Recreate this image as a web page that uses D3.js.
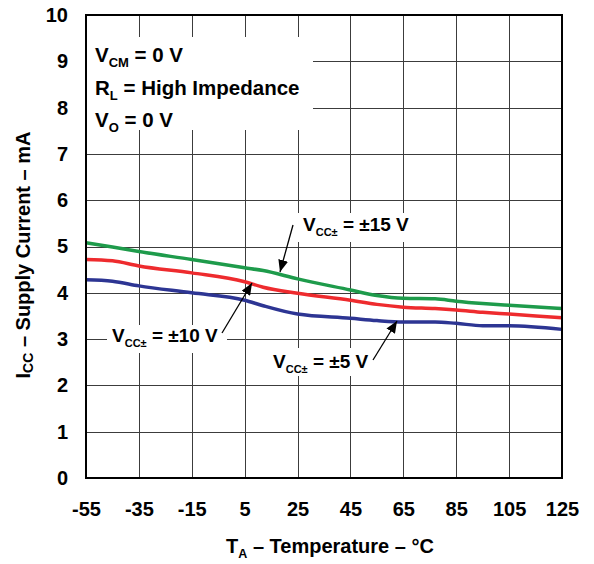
<!DOCTYPE html>
<html>
<head>
<meta charset="utf-8">
<script src="https://cdn.jsdelivr.net/npm/d3@7"></script>
<style>
  html, body { margin: 0; padding: 0; background: #fff; }
  svg { display: block; font-family: "Liberation Sans", Arial, Helvetica, sans-serif; font-weight: bold; }
</style>
</head>
<body>
<svg id="chart" width="594" height="564"></svg>
<script>
// ---- data ----
const temps  = [-55, -45, -35, -15, 5, 12, 25, 45, 55, 65, 77, 85, 95, 105, 125];
const icc15  = [5.08, 4.99, 4.89, 4.72, 4.54, 4.48, 4.30, 4.06, 3.94, 3.88, 3.87, 3.82, 3.77, 3.73, 3.66];
const icc10  = [4.72, 4.69, 4.58, 4.43, 4.24, 4.12, 3.99, 3.84, 3.75, 3.69, 3.66, 3.63, 3.58, 3.54, 3.46];
const icc5   = [4.28, 4.25, 4.15, 4.00, 3.84, 3.72, 3.54, 3.45, 3.40, 3.37, 3.37, 3.34, 3.29, 3.29, 3.21];
const xTicks = [-55, -35, -15, 5, 25, 45, 65, 85, 105, 125];
const yTicks = [0, 1, 2, 3, 4, 5, 6, 7, 8, 9, 10];
const seriesNames = ["±15 V", "±10 V", "±5 V"];
const seriesColors = ["#1e9b4b", "#ee2b2e", "#2d3593"];

// ---- layout ----
const L = 86, R = 562, T = 15, B = 478;
const svg = d3.select("#chart");
const x = d3.scaleLinear().domain([-55, 125]).range([L, R]);
const y = d3.scaleLinear().domain([0, 10]).range([B, T]);

// grid
const grid = svg.append("g").attr("stroke", "#3c3c3c").attr("stroke-width", 1);
grid.selectAll("line.v").data(xTicks).join("line")
  .attr("x1", d => Math.round(x(d)) + 0.5).attr("x2", d => Math.round(x(d)) + 0.5)
  .attr("y1", T).attr("y2", B);
grid.selectAll("line.h").data(yTicks).join("line")
  .attr("y1", d => Math.round(y(d)) + 0.5).attr("y2", d => Math.round(y(d)) + 0.5)
  .attr("x1", L).attr("x2", R);

// axes (labels only)
const xAxis = svg.append("g").attr("transform", `translate(0,${B})`)
  .call(d3.axisBottom(x).tickValues(xTicks).tickSize(0).tickPadding(24).tickFormat(d => String(d)));
xAxis.select(".domain").remove();
xAxis.selectAll("text").attr("font-size", 20).attr("font-weight", "bold")
  .attr("font-family", "Liberation Sans, Arial, sans-serif").attr("fill", "#000");

const yAxis = svg.append("g").attr("transform", `translate(${L},0)`)
  .call(d3.axisLeft(y).tickValues(yTicks).tickSize(0).tickPadding(18).tickFormat(d => String(d)));
yAxis.select(".domain").remove();
yAxis.selectAll("text").attr("font-size", 20).attr("font-weight", "bold")
  .attr("font-family", "Liberation Sans, Arial, sans-serif").attr("fill", "#000");

// white backgrounds behind annotations
const boxes = [
  [L + 1, 37, 313, 130],
  [298, 213, 412, 242],
  [107, 325, 227, 353],
  [270, 348, 374, 376]
];
svg.selectAll("rect.bg").data(boxes).join("rect")
  .attr("x", d => d[0]).attr("y", d => d[1])
  .attr("width", d => d[2] - d[0]).attr("height", d => d[3] - d[1])
  .attr("fill", "#fff");

// curves
const series = [icc15, icc10, icc5];
const line = d3.line().x(d => x(d[0])).y(d => y(d[1])).curve(d3.curveMonotoneX);
svg.selectAll("path.curve").data(series).join("path")
  .attr("fill", "none")
  .attr("stroke", (d, i) => seriesColors[i])
  .attr("stroke-width", 3.5)
  .attr("stroke-linejoin", "round")
  .attr("d", vals => line(temps.map((t, i) => [t, vals[i]])));

// frame
svg.append("rect").attr("x", L).attr("y", T).attr("width", R - L).attr("height", B - T)
  .attr("fill", "none").attr("stroke", "#000").attr("stroke-width", 2);

// condition text
function subText(g, xx, yy, main, sub, rest, size, subSize) {
  const t = g.append("text").attr("x", xx).attr("y", yy).attr("font-size", size).attr("fill", "#000");
  t.append("tspan").text(main);
  t.append("tspan").attr("font-size", subSize).attr("dy", size * 0.25).text(sub);
  t.append("tspan").attr("dy", -size * 0.25).text(rest);
  return t;
}
subText(svg, 95, 62, "V", "CM", " = 0 V", 20.5, 13);
subText(svg, 95, 95, "R", "L", " = High Impedance", 20.5, 13);
subText(svg, 95, 127, "V", "O", " = 0 V", 20.5, 13);

// series labels
const labelPos = [[303, 231], [112, 342], [273, 368]];
labelPos.forEach((p, i) => subText(svg, p[0], p[1], "V", "CC±", " = " + seriesNames[i], 19, 11));

// arrows
const defs = svg.append("defs");
defs.append("marker").attr("id", "ah").attr("viewBox", "0 0 12 10")
  .attr("refX", 12).attr("refY", 5).attr("markerWidth", 12).attr("markerHeight", 10)
  .attr("markerUnits", "userSpaceOnUse").attr("orient", "auto")
  .append("path").attr("d", "M0,0 L12,5 L0,10 Z").attr("fill", "#000");
const arrows = [
  [293, 225, 280, 272],
  [222, 333, 252, 283],
  [373, 360, 397, 321]
];
svg.selectAll("line.arrow").data(arrows).join("line")
  .attr("x1", d => d[0]).attr("y1", d => d[1]).attr("x2", d => d[2]).attr("y2", d => d[3])
  .attr("stroke", "#000").attr("stroke-width", 1.3).attr("marker-end", "url(#ah)");

// axis titles
const xt = svg.append("text").attr("x", 330).attr("y", 553).attr("text-anchor", "middle")
  .attr("font-size", 20).attr("fill", "#000");
xt.append("tspan").text("T");
xt.append("tspan").attr("font-size", 12.5).attr("dy", 5).text("A");
xt.append("tspan").attr("dy", -5).text(" – Temperature – °C");

const yt = svg.append("text").attr("transform", "translate(30,255) rotate(-90)")
  .attr("text-anchor", "middle").attr("font-size", 20).attr("fill", "#000");
yt.append("tspan").text("I");
yt.append("tspan").attr("font-size", 14).attr("dy", 3).text("CC");
yt.append("tspan").attr("dy", -3).text(" – Supply Current – mA");
</script>
</body>
</html>
